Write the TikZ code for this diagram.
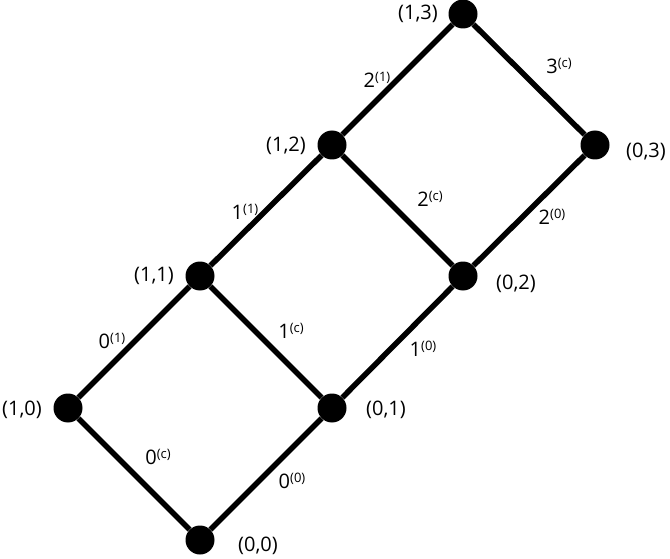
\documentclass[tikz,border=0pt]{standalone}
\usepackage{fontspec}
\setmainfont{Open Sans}
\newcommand{\sx}[2]{#1\raisebox{6pt}{\fontsize{13}{13}\selectfont(#2)}}
\begin{document}
\begin{tikzpicture}[x=1pt,y=-1pt,
  dot/.style={circle,fill=black,inner sep=0pt,minimum size=29pt},
  edge/.style={line width=5.5pt},
  lbl/.style={font=\fontsize{20}{22}\selectfont,inner sep=0pt},
  elbl/.style={font=\fontsize{20}{22}\selectfont,inner sep=0pt}]
\useasboundingbox (0,0) rectangle (670,559);
\node[dot] (n00) at (200,540) {};
\node[dot] (n10) at (68,408) {};
\node[dot] (n01) at (332,408) {};
\node[dot] (n11) at (200,276) {};
\node[dot] (n02) at (463,276) {};
\node[dot] (n12) at (332,145) {};
\node[dot] (n03) at (595,145) {};
\node[dot] (n13) at (463,14) {};
\draw[edge] (n00) -- (n10);
\draw[edge] (n00) -- (n01);
\draw[edge] (n10) -- (n11);
\draw[edge] (n01) -- (n11);
\draw[edge] (n01) -- (n02);
\draw[edge] (n11) -- (n12);
\draw[edge] (n02) -- (n12);
\draw[edge] (n02) -- (n03);
\draw[edge] (n12) -- (n13);
\draw[edge] (n03) -- (n13);
\node[lbl] (l00) at (258,546) {(0,0)};
\node[lbl] (l10) at (22,410) {(1,0)};
\node[lbl] (l01) at (386,410) {(0,1)};
\node[lbl] (l11) at (154,276) {(1,1)};
\node[lbl] (l02) at (516,284) {(0,2)};
\node[lbl] (l12) at (286,146) {(1,2)};
\node[lbl] (l03) at (646,152) {(0,3)};
\node[lbl] (l13) at (418,14) {(1,3)};
\node[elbl] (e1) at (158,457) {\sx{0}{c}};
\node[elbl] (e2) at (292,481) {\sx{0}{0}};
\node[elbl] (e3) at (112,341) {\sx{0}{1}};
\node[elbl] (e4) at (291,331) {\sx{1}{c}};
\node[elbl] (e5) at (423,349) {\sx{1}{0}};
\node[elbl] (e6) at (245,212) {\sx{1}{1}};
\node[elbl] (e7) at (430,199) {\sx{2}{c}};
\node[elbl] (e8) at (552,217) {\sx{2}{0}};
\node[elbl] (e9) at (377,80) {\sx{2}{1}};
\node[elbl] (e10) at (559,66) {\sx{3}{c}};
\end{tikzpicture}
\end{document}
